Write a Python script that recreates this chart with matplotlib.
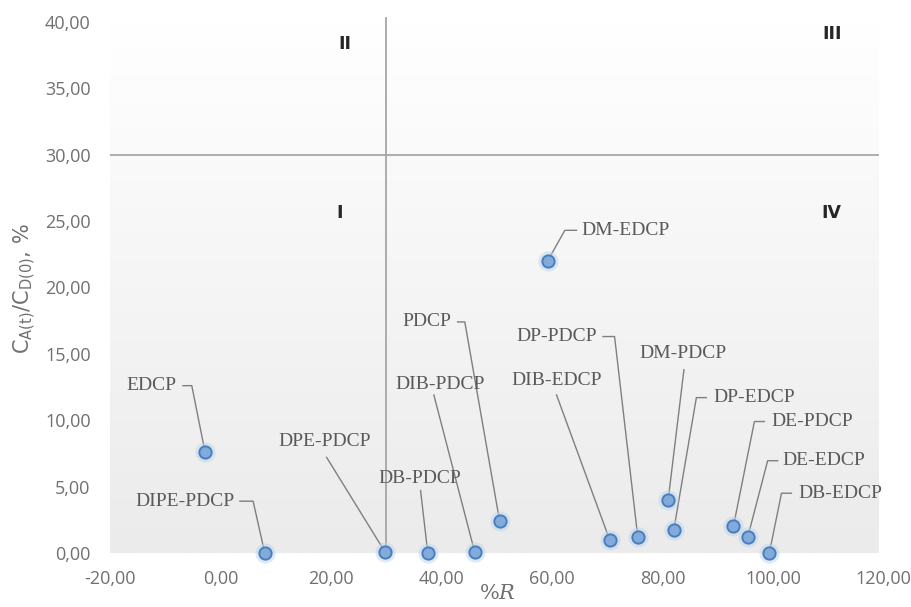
import numpy as np
import matplotlib
matplotlib.use("Agg")
import matplotlib.pyplot as plt
from matplotlib.colors import LinearSegmentedColormap

plt.rcParams["mathtext.fontset"] = "dejavuserif"

# ---- data ----
names = ["EDCP", "DIPE-PDCP", "DPE-PDCP", "DB-PDCP", "DIB-PDCP", "PDCP",
         "DM-EDCP", "DIB-EDCP", "DP-PDCP", "DM-PDCP", "DP-EDCP", "DE-PDCP",
         "DE-EDCP", "DB-EDCP"]
r_pct = [-2.8, 8.0, 29.8, 37.5, 46.0, 50.5, 59.2, 70.4, 75.5, 81.0, 82.0,
         92.8, 95.4, 99.3]
ratio = [7.6, 0.0, 0.05, 0.0, 0.05, 2.4, 22.0, 1.0, 1.2, 4.0, 1.7, 2.0, 1.2, 0.0]

# label anchors (data coords) and alignment
label_x = [-7.9, 2.6, 18.9, 36.1, 39.7, 41.8, 65.3, 60.8, 68.1, 83.7, 89.1, 99.7, 101.7, 104.5]
label_y = [12.6, 3.9, 8.4, 5.6, 12.7, 17.4, 24.3, 13.0, 16.3, 15.0, 11.7, 9.9, 6.95, 4.5]
label_ha = ["right", "right", "center", "center", "center", "right", "left",
            "center", "right", "center", "left", "left", "left", "left"]
# leader line vertices after the point (data coords)
leaders = [
    [(-5.2, 12.6), (-6.8, 12.6)],
    [(5.9, 3.9), (3.5, 3.9)],
    [(19.2, 7.2)],
    [(36.2, 4.7)],
    [(38.6, 11.9)],
    [(44.2, 17.4), (42.9, 17.4)],
    [(62.3, 24.3), (64.4, 24.3)],
    [(60.8, 11.9)],
    [(71.3, 16.3), (69.2, 16.3)],
    [(83.85, 13.8)],
    [(86.1, 11.7), (87.9, 11.7)],
    [(96.6, 9.9), (98.4, 9.9)],
    [(99.0, 6.95), (100.8, 6.95)],
    [(101.5, 4.5), (103.3, 4.5)],
]
quad_labels = ["II", "III", "I", "IV"]
quad_x = [22.5, 110.6, 21.6, 110.6]
quad_y = [38.3, 39.1, 25.6, 25.6]
xticks = [-20, 0, 20, 40, 60, 80, 100, 120]
yticks = [0, 5, 10, 15, 20, 25, 30, 35, 40]

fig = plt.figure(figsize=(9.12, 6.07), dpi=100)
ax = fig.add_axes([0.1206, 0.089, 0.8484, 0.875])
ax.set_xlim(-20, 120)
ax.set_ylim(0, 40)

# gradient background
cmap = LinearSegmentedColormap.from_list("bg", ["#ebebeb", "#f5f5f5", "#ffffff"])
grad = np.linspace(0, 1, 256).reshape(-1, 1)
ax.imshow(grad, extent=(-20, 119, 0, 40), origin="lower", aspect="auto",
          cmap=cmap, zorder=0)

# quadrant lines
ax.plot([-20, 119], [30, 30], color="#a6a6a6", lw=1.3, zorder=1)
ax.plot([30, 30], [0, 40.3], color="#a6a6a6", lw=1.3, zorder=1, clip_on=False)

# leader lines
for px, py, pts in zip(r_pct, ratio, leaders):
    xs = [px] + [p[0] for p in pts]
    ys = [py] + [p[1] for p in pts]
    ax.plot(xs, ys, color="#7f7f7f", lw=1.0, zorder=2)

# markers with glow
ax.scatter(r_pct, ratio, s=210, color="#bdd7ee", alpha=0.5, lw=0, zorder=3, clip_on=False)
ax.scatter(r_pct, ratio, s=78, color="#82abdc", edgecolor="#4a7ebb", lw=1.4,
           zorder=4, clip_on=False)

# point labels
for n, lx, ly, ha in zip(names, label_x, label_y, label_ha):
    ax.text(lx, ly, n, ha=ha, va="center", fontsize=14, color="#595959",
            family="Liberation Serif", zorder=5)

for q, qx, qy in zip(quad_labels, quad_x, quad_y):
    ax.text(qx, qy, q, ha="center", va="center", fontsize=12.5, fontweight="bold",
            color="#262626", family="DejaVu Sans")

ax.set_xticks(xticks)
ax.set_yticks(yticks)
ax.set_xticklabels([f"{v:.2f}".replace(".", ",") for v in xticks],
                   family="Open Sans", fontsize=13, color="#707070")
ax.set_yticklabels([f"{v:.2f}".replace(".", ",") for v in yticks],
                   family="Open Sans", fontsize=13, color="#707070")
ax.tick_params(axis="x", length=0, pad=12)
ax.tick_params(axis="y", length=0, pad=14)
for s in ax.spines.values():
    s.set_visible(False)

fig.text(0.027, 0.525, r"$\mathsf{C_{A(t)}/C_{D(0)}}$, %", rotation=90,
         ha="center", va="center", fontsize=15, color="#707070", family="DejaVu Sans")
fig.text(0.545, 0.023, r"%$R$", ha="center", va="center", fontsize=15,
         color="#707070", family="DejaVu Serif")

fig.savefig("out.png", dpi=100)
